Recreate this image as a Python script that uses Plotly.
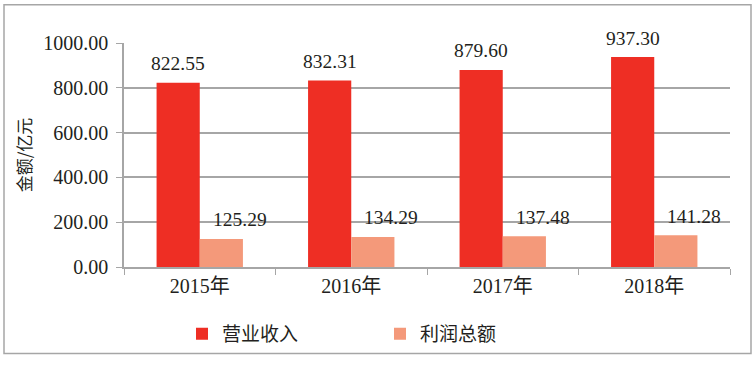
import plotly.graph_objects as go

years = ["2015年", "2016年", "2017年", "2018年"]
revenue = [822.55, 832.31, 879.60, 937.30]
profit = [125.29, 134.29, 137.48, 141.28]
series_names = ["营业收入", "利润总额"]
y_ticks = [0, 200, 400, 600, 800, 1000]

RED = "#EE2E24"
SALMON = "#F4997A"
GRID = "#A6A6A6"
TXT = "#231F20"
SERIF = "Liberation Serif, Times New Roman, Noto Sans CJK SC, serif"
CJK = "Noto Sans CJK SC, sans-serif"

fig = go.Figure()
fig.add_trace(go.Bar(x=years, y=revenue, name=series_names[0], marker_color=RED,
                     marker_line_width=0))
fig.add_trace(go.Bar(x=years, y=profit, name=series_names[1], marker_color=SALMON,
                     marker_line_width=0))

annotations = []
for cat, v in zip(years, revenue):
    annotations.append(dict(x=cat, y=v, xref="x", yref="y", text=f"{v:.2f}",
                            showarrow=False, xshift=-21.5, yshift=19,
                            font=dict(family=SERIF, size=19.5, color=TXT)))
for cat, v in zip(years, profit):
    annotations.append(dict(x=cat, y=v, xref="x", yref="y", text=f"{v:.2f}",
                            showarrow=False, xshift=40, yshift=19,
                            font=dict(family=SERIF, size=19.5, color=TXT)))

fig.update_layout(
    width=755, height=365,
    margin=dict(l=124, r=25, t=43, b=94),
    paper_bgcolor="white", plot_bgcolor="white",
    barmode="group", bargap=0.43, bargroupgap=0,
    showlegend=True,
    legend=dict(orientation="h", x=(182 - 124) / 606, xanchor="left",
                y=(271 - 339) / 228, yanchor="middle",
                font=dict(family=CJK, size=19, color=TXT),
                entrywidth=153, entrywidthmode="pixels",
                bgcolor="rgba(0,0,0,0)"),
    annotations=annotations,
    shapes=[dict(type="rect", xref="paper", yref="paper",
                 x0=(4 - 124) / 606, x1=(751 - 124) / 606,
                 y0=(271 - 359) / 228, y1=(271 - 4) / 228,
                 line=dict(color=GRID, width=1.5), fillcolor="rgba(0,0,0,0)",
                 layer="below")],
)

fig.update_xaxes(type="category", tickson="boundaries", ticks="outside", ticklen=6,
                 tickcolor=GRID, tickwidth=1.2, showline=True, linecolor=GRID,
                 linewidth=1.5, showgrid=False,
                 tickfont=dict(family=SERIF, size=20, color=TXT))
fig.update_yaxes(range=[0, 1000], tickvals=y_ticks, tickformat=".2f",
                 ticks="outside", ticklen=6, tickcolor=GRID, tickwidth=1.2,
                 showline=True, linecolor=GRID, linewidth=1.5,
                 showgrid=True, gridcolor=GRID, gridwidth=1.5, zeroline=False,
                 ticklabelstandoff=4,
                 tickfont=dict(family=SERIF, size=20, color=TXT),
                 title=dict(text="金额/亿元", standoff=7,
                            font=dict(family=CJK, size=17, color=TXT)))

fig.write_html("out.html", config={"displayModeBar": False},
               post_script="document.body.style.margin='0';")
